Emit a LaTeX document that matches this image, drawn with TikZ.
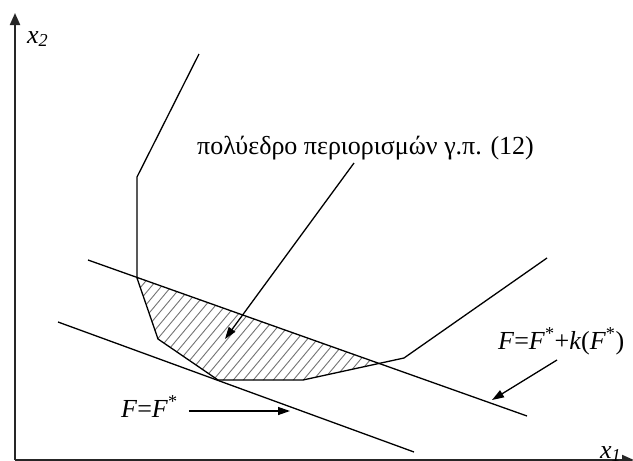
\documentclass[tikz,border=0pt]{standalone}
\usepackage{fontspec}
\setmainfont{Liberation Serif}
\usetikzlibrary{arrows.meta}
\begin{document}
\begin{tikzpicture}[x=1pt, y=-1pt,
    every node/.style={inner sep=0pt, font=\fontsize{26}{30}\selectfont},
    edge/.style={line width=1.3pt},
    axis/.style={line width=2pt, black!85, -{Triangle[length=12pt,width=10pt]}},
    pointer/.style={line width=1.3pt, -{Triangle[length=12pt,width=8pt]}},
    hatch/.style={line width=0.9pt, black!55}]
  \useasboundingbox (0,0) rectangle (633,461);
  % axes
  \coordinate (origin) at (15,460);
  \coordinate (yTop) at (15,13);
  \coordinate (xEnd) at (634,460);
  \draw[axis] (origin) -- (yTop);
  \draw[axis] (origin) -- (xEnd);
  \node[anchor=base west] (lblXtwo) at (27,43) {\textit{x}\textsubscript{\textit{2}}};
  \node[anchor=base west] (lblXone) at (600,458) {\textit{x}\textsubscript{\textit{1}}};
  % hatched part of the polyhedron
  \begin{scope}
    \clip (137,177) -- (137,278) -- (158,339) -- (218,380) -- (303,380) -- (404,358) -- (547,258) -- cycle;
    \clip (88,260) -- (527,416) -- (527,461) -- (88,461) -- cycle;
    \foreach \i in {0,10,...,380}
      \draw[hatch] (\i,420) -- ++(200,-240);
  \end{scope}
  % polyhedron boundary
  \draw[edge] (199,54) -- (137,177) -- (137,278) -- (158,339) -- (218,380) -- (303,380) -- (404,358) -- (547,258);
  % objective lines
  \draw[edge] (88,260) -- (527,416);
  \draw[edge] (58,322) -- (414,452);
  % labels
  \node[anchor=base west] (lblPoly) at (197,154) {πολύεδρο περιορισμών γ.π. (12)};
  \node[anchor=base west] (lblFk) at (498,349) {\textit{F}=\textit{F}\textsuperscript{*}+\textit{k}(\textit{F}\textsuperscript{*})};
  \node[anchor=base west] (lblF) at (121,417) {\textit{F}=\textit{F}\textsuperscript{*}};
  \coordinate (polyFrom) at (354,163);
  \coordinate (polyTip) at (225,339);
  \coordinate (fkFrom) at (557,360);
  \coordinate (fkTip) at (492,400);
  \coordinate (fTip) at (290,411);
  \draw[pointer] (polyFrom) -- (polyTip);
  \draw[pointer] (fkFrom) -- (fkTip);
  \draw[pointer] ([shift={(11pt,6pt)}]lblF.base east) -- (fTip);
\end{tikzpicture}
\end{document}
